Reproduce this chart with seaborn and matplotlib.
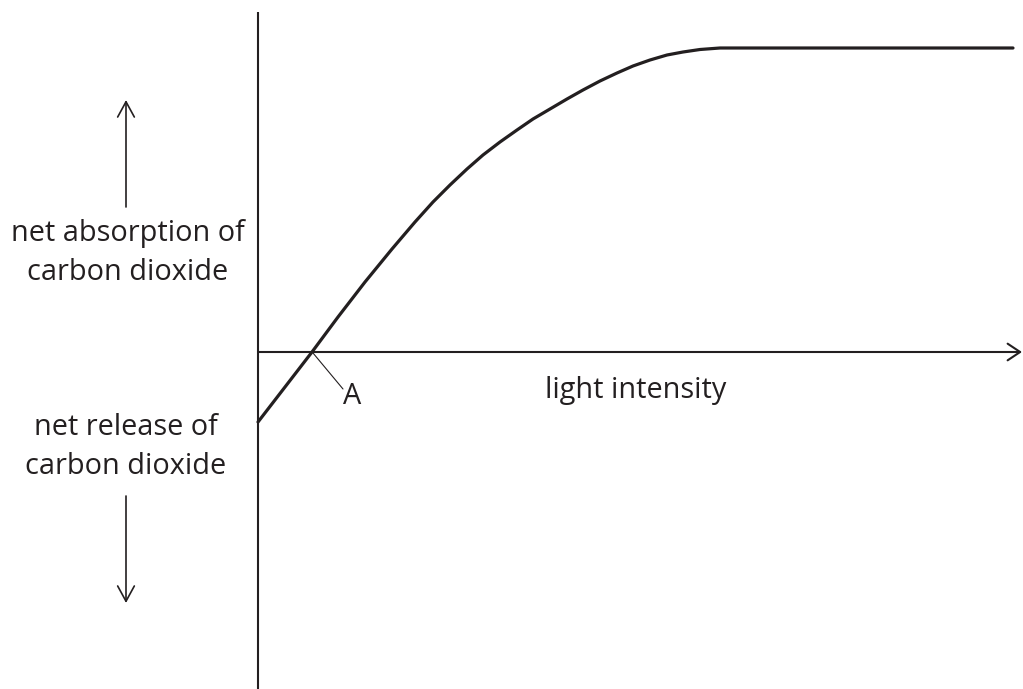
import matplotlib
matplotlib.use("Agg")
import matplotlib.pyplot as plt
import seaborn as sns
import pandas as pd

# Curve (x: light intensity, y: net CO2 absorption; 0 = axis)
light = [0, 27, 54, 80, 107, 134, 157, 175, 192, 209, 225, 242, 259, 275,
         292, 309, 325, 342, 359, 375, 392, 409, 425, 442, 462, 755]
co2 = [-70, -35, 0, 35, 70, 103, 130, 150, 167, 183, 197, 210, 222, 233,
       243, 253, 262, 271, 279, 286, 292, 297, 300, 302.5, 304, 304]

label_up = "net absorption of\ncarbon dioxide"
label_down = "net release of\ncarbon dioxide"
label_x = "light intensity"
point_label = "A"

sns.set_theme(style="white")
plt.rcParams["font.family"] = ["Open Sans", "DejaVu Sans"]

fig = plt.figure(figsize=(10.23, 6.89), dpi=100)
ax = fig.add_axes([0, 0, 1, 1])
ax.set_xlim(-258, 765)
ax.set_ylim(-337, 352)
ax.axis("off")

ink = "#231f20"
df = pd.DataFrame({"light": light, "co2": co2})
sns.lineplot(data=df, x="light", y="co2", sort=False, estimator=None,
             color=ink, lw=2.3, ax=ax, legend=False)

# y axis
ax.plot([0, 0], [340, -337], color=ink, lw=1.5, solid_capstyle="butt")
# x axis with open arrowhead
ax.annotate("", xy=(764, 0), xytext=(0, 0),
            arrowprops=dict(arrowstyle="->,head_length=0.45,head_width=0.3",
                            color=ink, lw=1.5, mutation_scale=20,
                            shrinkA=0, shrinkB=0))
# up / down arrows
ax.annotate("", xy=(-132, 252), xytext=(-132, 145),
            arrowprops=dict(arrowstyle="->,head_length=0.55,head_width=0.3",
                            color=ink, lw=1.2, mutation_scale=20,
                            shrinkA=0, shrinkB=0))
ax.annotate("", xy=(-132, -251), xytext=(-132, -144),
            arrowprops=dict(arrowstyle="->,head_length=0.55,head_width=0.3",
                            color=ink, lw=1.2, mutation_scale=20,
                            shrinkA=0, shrinkB=0))

# leader line to A
ax.plot([55, 85], [-1, -37], color=ink, lw=0.8)
ax.text(94, -45, point_label, ha="center", va="center", fontsize=20.8, color=ink)

ax.text(-130, 99, label_up, ha="center", va="center", fontsize=20.8,
        color=ink, linespacing=1.45)
ax.text(-132, -95, label_down, ha="center", va="center", fontsize=20.8,
        color=ink, linespacing=1.45)
ax.text(378, -46, label_x, ha="center", va="baseline", fontsize=20.8, color=ink)

fig.savefig("out.png", dpi=100)
